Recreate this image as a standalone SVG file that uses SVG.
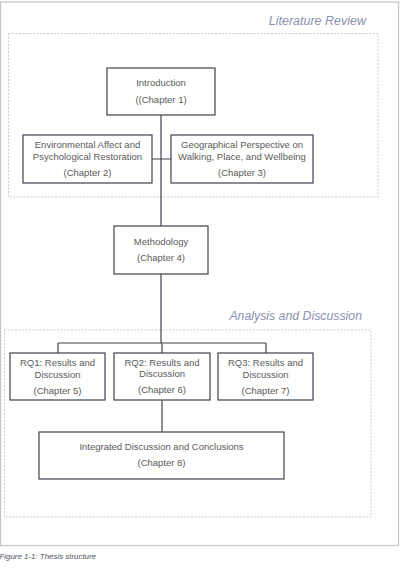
<svg xmlns="http://www.w3.org/2000/svg" width="400" height="576" viewBox="0 0 400 576">
<style>
.box{fill:#fff;stroke:#42424f;stroke-width:1.2}
.t{font-family:"Liberation Sans",Arial,sans-serif;font-size:9.5px;fill:#5a5a5a;text-anchor:middle}
.h{font-family:"Liberation Sans",Arial,sans-serif;font-style:italic;fill:#8b90b0;text-anchor:end}
.dash{fill:none;stroke:#b9c8dc;stroke-width:0.9;stroke-dasharray:2,1.5}
.ln{fill:none;stroke:#42424f;stroke-width:1.2}
</style>
<rect x="0" y="0" width="576" height="576" fill="#fff"/>
<rect x="0.5" y="2" width="398" height="543.5" fill="none" stroke="#c4c4c4" stroke-width="1.2"/>
<g id="group-literature">
<rect class="dash" x="8.5" y="33.5" width="369.5" height="163.5"/>
<text class="h" x="366" y="25" font-size="12.5">Literature Review</text>
</g>
<g id="group-analysis">
<rect class="dash" x="4.5" y="330" width="366.5" height="187"/>
<text class="h" x="362" y="320" font-size="12.3">Analysis and Discussion</text>
</g>
<g id="connectors">
<path class="ln" d="M161 115V226M152 159H171M161 274V343M58 343H266M58 343V353M162 343V353M266 343V353M162 400V432"/>
</g>
<g id="n1">
<rect class="box" x="107" y="68" width="108" height="47"/>
<text class="t" x="161" y="86">Introduction</text>
<text class="t" x="161" y="103">((Chapter 1)</text>
</g>
<g id="n2">
<rect class="box" x="23" y="135" width="129" height="48"/>
<text class="t" x="87.5" y="148">Environmental Affect and</text>
<text class="t" x="87.5" y="159.5">Psychological Restoration</text>
<text class="t" x="87.5" y="176">(Chapter 2)</text>
</g>
<g id="n3">
<rect class="box" x="171" y="135" width="142" height="48"/>
<text class="t" x="242" y="148">Geographical Perspective on</text>
<text class="t" x="242" y="159.5">Walking, Place, and Wellbeing</text>
<text class="t" x="242" y="176">(Chapter 3)</text>
</g>
<g id="n4">
<rect class="box" x="114" y="226" width="94" height="48"/>
<text class="t" x="161" y="245">Methodology</text>
<text class="t" x="161" y="261">(Chapter 4)</text>
</g>
<g id="n5">
<rect class="box" x="10" y="353" width="95" height="47"/>
<text class="t" x="57.5" y="366">RQ1: Results and</text>
<text class="t" x="57.5" y="377.5">Discussion</text>
<text class="t" x="57.5" y="393.5">(Chapter 5)</text>
</g>
<g id="n6">
<rect class="box" x="114" y="353" width="96" height="47"/>
<text class="t" x="162" y="365.5">RQ2: Results and</text>
<text class="t" x="162" y="377">Discussion</text>
<text class="t" x="162" y="393">(Chapter 6)</text>
</g>
<g id="n7">
<rect class="box" x="218" y="353" width="95" height="47"/>
<text class="t" x="265.5" y="366">RQ3: Results and</text>
<text class="t" x="265.5" y="377.5">Discussion</text>
<text class="t" x="265.5" y="393.5">(Chapter 7)</text>
</g>
<g id="n8">
<rect class="box" x="39" y="432" width="245" height="47"/>
<text class="t" x="161.5" y="450">Integrated Discussion and Conclusions</text>
<text class="t" x="161.5" y="466">(Chapter 8)</text>
</g>
<text x="-0.5" y="559" font-family="'Liberation Sans',Arial,sans-serif" font-style="italic" font-size="7.9" fill="#505060">Figure 1-1: Thesis structure</text>
</svg>
